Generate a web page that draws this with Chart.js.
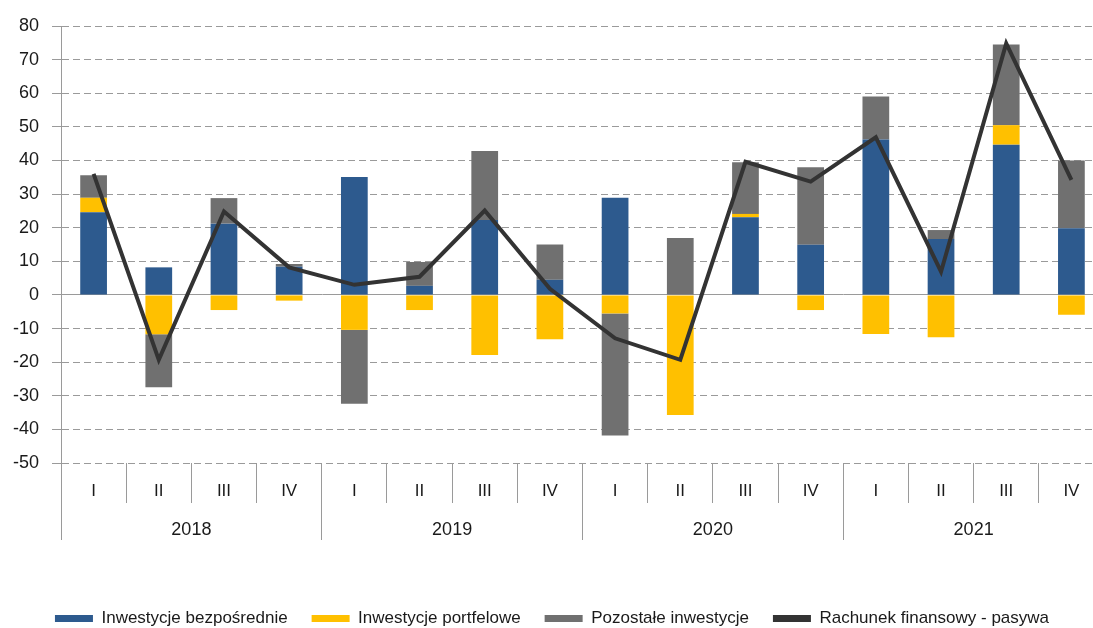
<!DOCTYPE html>
<html>
<head>
<meta charset="utf-8">
<script src="https://cdn.jsdelivr.net/npm/chart.js@4"></script>
<style>
  html, body { margin: 0; padding: 0; background: #fff; overflow: hidden; }
  #wrap { width: 1104px; height: 628px; }
</style>
</head>
<body>
<div id="wrap"><canvas id="chart"></canvas></div>
<script>
// kwartały i lata
const quarters = ['I', 'II', 'III', 'IV', 'I', 'II', 'III', 'IV', 'I', 'II', 'III', 'IV', 'I', 'II', 'III', 'IV'];
const years = ['2018', '2019', '2020', '2021'];

// mld EUR (odczyt z wykresu)
const direct = [24.6, 8.2, 21.2, 8.4, 35.1, 2.7, 22.3, 4.5, 28.9, 0, 23.1, 14.9, 46.2, 16.6, 44.7, 19.8];
const portfolio = [4.3, -11.7, -4.5, -1.7, -10.4, -4.5, -17.9, -13.2, -5.5, -35.7, 1.0, -4.5, -11.6, -12.6, 5.8, -5.9];
const other = [6.7, -15.8, 7.6, 0.8, -22.0, 7.1, 20.5, 10.5, -36.3, 16.9, 15.4, 23.1, 12.8, 2.7, 24.0, 20.2];
const financial = [36.0, -19.3, 24.8, 8.2, 3.0, 5.4, 25.1, 1.8, -12.9, -19.3, 39.6, 33.7, 46.9, 6.9, 74.8, 34.2];

const yTicks = { min: -50, max: 80, step: 10 };

const COLORS = {
  blue: '#2d5a8e',
  yellow: '#ffc000',
  gray: '#707070',
  line: '#333333',
  grid: '#9a9a9a',
  text: '#1a1a1a',
};

const FONT = "'Liberation Sans', Arial, sans-serif";
Chart.defaults.font.family = FONT;
Chart.defaults.color = COLORS.text;

const barCommon = { categoryPercentage: 1, barPercentage: 0.41, borderWidth: 0, stack: 'inv' };

new Chart(document.getElementById('chart'), {
  type: 'bar',
  data: {
    labels: quarters,
    datasets: [
      { label: 'Inwestycje bezpośrednie', data: direct, backgroundColor: COLORS.blue, ...barCommon },
      { label: 'Inwestycje portfelowe', data: portfolio, backgroundColor: COLORS.yellow, ...barCommon },
      { label: 'Pozostałe inwestycje', data: other, backgroundColor: COLORS.gray, ...barCommon },
      {
        type: 'line',
        label: 'Rachunek finansowy - pasywa',
        data: financial,
        stack: 'line',
        order: -1,
        borderColor: COLORS.line,
        backgroundColor: COLORS.line,
        borderWidth: 4,
        pointRadius: 0,
        tension: 0,
      },
    ],
  },
  options: {
    responsive: true,
    maintainAspectRatio: false,
    animation: false,
    layout: { padding: { top: 26, left: 0, right: 0, bottom: -9 } },
    plugins: {
      tooltip: { enabled: false },
      legend: {
        position: 'bottom',
        labels: {
          boxWidth: 38,
          boxHeight: 7,
          padding: 24,
          font: { size: 17 },
          color: COLORS.text,
          generateLabels: (chart) => {
            const items = Chart.defaults.plugins.legend.labels.generateLabels(chart);
            items.forEach((it) => { it.lineWidth = 0; });
            return items.sort((a, b) => a.datasetIndex - b.datasetIndex);
          },
        },
      },
    },
    scales: {
      x: {
        stacked: true,
        offset: true,
        grid: { offset: true, drawOnChartArea: false, tickLength: 40, color: COLORS.grid },
        border: { display: false },
        ticks: { font: { size: 17 }, padding: -22, color: COLORS.text },
        afterFit: (s) => { s.height = 40; },
      },
      x2: {
        type: 'category',
        position: 'bottom',
        labels: years,
        offset: true,
        grid: { offset: true, drawOnChartArea: false, tickLength: 37, color: COLORS.grid },
        border: { display: false },
        ticks: { font: { size: 18 }, padding: -21, color: COLORS.text },
        afterFit: (s) => { s.height = 83; },
      },
      y: {
        stacked: true,
        min: yTicks.min,
        max: yTicks.max,
        ticks: { stepSize: yTicks.step, font: { size: 18 }, padding: 13, color: COLORS.text },
        grid: { color: COLORS.grid, lineWidth: 1, tickLength: 9 },
        border: {
          display: true,
          color: COLORS.grid,
          dash: (c) => (c.tick && c.tick.value !== 0 ? [7, 4] : []),
        },
        afterFit: (s) => { s.width = 61; },
      },
    },
  },
});
</script>
</body>
</html>
